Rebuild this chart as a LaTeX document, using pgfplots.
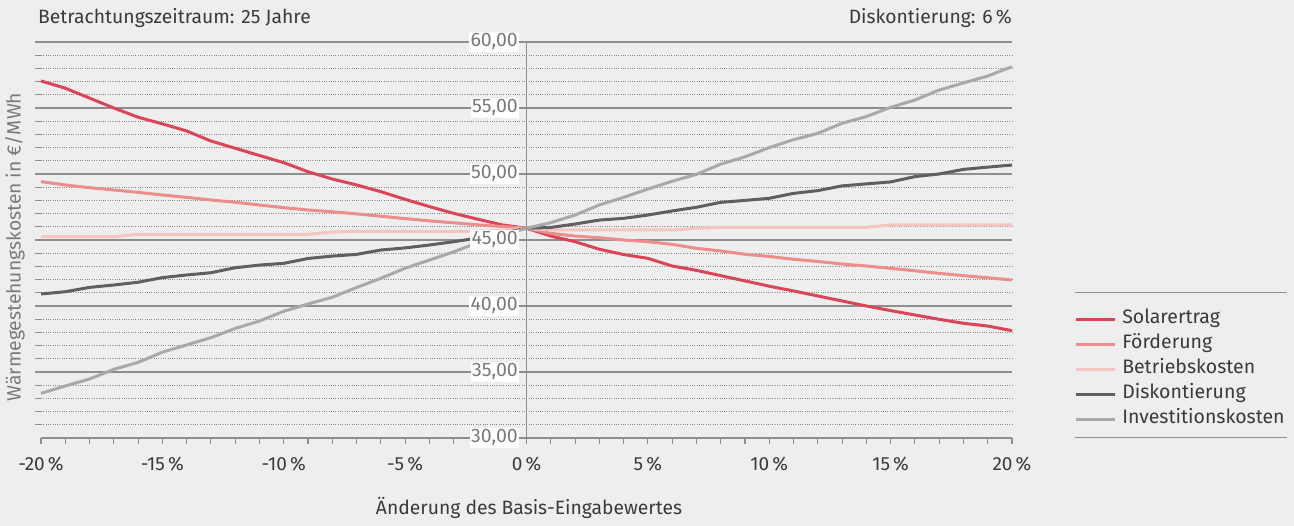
\documentclass[border=0pt]{standalone}
\usepackage{fontspec}
\setmainfont{Fira Sans}
\usepackage{pgfplots}
\usepackage{pgfplotstable}
\pgfplotsset{compat=1.18}
\definecolor{bg}{HTML}{EEEEEE}
\definecolor{c1}{HTML}{DC4457}
\definecolor{c2}{HTML}{EC8E8C}
\definecolor{c3}{HTML}{F6C5BF}
\definecolor{c4}{HTML}{5E5E63}
\definecolor{c5}{HTML}{A9A9AD}
\definecolor{gridmaj}{HTML}{8E8E8E}
\definecolor{gridmin}{HTML}{8A8A8A}
\definecolor{txt}{HTML}{3A3A3A}
\definecolor{ylab}{HTML}{7A7A7A}

\pgfplotstableread{
x y
-20 57.05
-19 56.50
-18 55.75
-17 55.00
-16 54.30
-15 53.80
-14 53.26
-13 52.50
-12 51.95
-11 51.40
-10 50.86
-9 50.17
-8 49.62
-7 49.17
-6 48.66
-5 48.08
-4 47.53
-3 47.02
-2 46.57
-1 46.14
0 45.89
1 45.30
2 44.87
3 44.30
4 43.90
5 43.61
6 43.03
7 42.70
8 42.30
9 41.90
10 41.50
11 41.14
12 40.76
13 40.38
14 40.00
15 39.65
16 39.32
17 38.99
18 38.69
19 38.48
20 38.13
}\solar

\pgfplotstableread{
x y
-20 49.42
-19 49.17
-18 48.96
-17 48.79
-16 48.61
-15 48.41
-14 48.23
-13 48.03
-12 47.86
-11 47.65
-10 47.45
-9 47.27
-8 47.14
-7 46.98
-6 46.80
-5 46.62
-4 46.45
-3 46.30
-2 46.15
-1 46.02
0 45.89
1 45.50
2 45.30
3 45.17
4 45.00
5 44.87
6 44.67
7 44.37
8 44.17
9 43.92
10 43.75
11 43.54
12 43.37
13 43.18
14 43.03
15 42.85
16 42.67
17 42.47
18 42.30
19 42.14
20 41.97
}\foerd

\pgfplotstableread{
x y
-20 45.25
-19 45.25
-18 45.25
-17 45.25
-16 45.43
-15 45.43
-14 45.43
-13 45.43
-12 45.43
-11 45.43
-10 45.43
-9 45.43
-8 45.60
-7 45.66
-6 45.66
-5 45.66
-4 45.66
-3 45.66
-2 45.66
-1 45.72
0 45.89
1 45.76
2 45.76
3 45.76
4 45.76
5 45.76
6 45.76
7 45.89
8 45.96
9 45.96
10 45.96
11 45.96
12 45.96
13 45.96
14 45.96
15 46.14
16 46.14
17 46.14
18 46.14
19 46.14
20 46.14
}\betrieb

\pgfplotstableread{
x y
-20 40.91
-19 41.08
-18 41.41
-17 41.59
-16 41.80
-15 42.15
-14 42.35
-13 42.52
-12 42.90
-11 43.10
-10 43.23
-9 43.60
-8 43.78
-7 43.91
-6 44.24
-5 44.40
-4 44.62
-3 44.87
-2 45.15
-1 45.50
0 45.89
1 45.95
2 46.21
3 46.51
4 46.64
5 46.89
6 47.20
7 47.48
8 47.85
9 48.00
10 48.16
11 48.53
12 48.74
13 49.10
14 49.25
15 49.40
16 49.80
17 50.00
18 50.35
19 50.52
20 50.68
}\disk

\pgfplotstableread{
x y
-20 33.38
-19 33.94
-18 34.47
-17 35.20
-16 35.73
-15 36.50
-14 37.05
-13 37.60
-12 38.30
-11 38.86
-10 39.60
-9 40.15
-8 40.66
-7 41.40
-6 42.10
-5 42.86
-4 43.48
-3 44.10
-2 44.80
-1 45.35
0 45.89
1 46.31
2 46.89
3 47.65
4 48.23
5 48.86
6 49.45
7 49.97
8 50.75
9 51.30
10 52.00
11 52.60
12 53.08
13 53.84
14 54.35
15 55.05
16 55.60
17 56.36
18 56.90
19 57.42
20 58.13
}\invest

\begin{document}
\begin{tikzpicture}[x=1pt,y=1pt]
\fill[bg] (0,0) rectangle (1294,526);
\useasboundingbox (0,0) rectangle (1294,526);
\begin{axis}[
  at={(41pt,88pt)}, anchor=south west,
  width=971pt, height=396pt, scale only axis,
  xmin=-20, xmax=20, ymin=30, ymax=60,
  axis x line=bottom, axis y line=center,
  axis line style={draw=gridmaj, line width=1.3pt, -},
  xtick={-20,-15,...,20},
  xticklabels={-20\,\%,-15\,\%,-10\,\%,-5\,\%,0\,\%,5\,\%,10\,\%,15\,\%,20\,\%},
  minor x tick num=4,
  ytick={30,35,...,60},
  yticklabels={},
  minor y tick num=4,
  ymajorgrids, yminorgrids,
  major grid style={draw=gridmaj, line width=1.3pt},
  minor grid style={draw=gridmin, line width=0.9pt, dash pattern=on 1pt off 1.3pt},
  tick style={draw=gridmaj, line width=1.1pt},
  major tick length=6pt, minor tick length=6pt,
  tick align=outside,
  ytick pos=left,
  xticklabel style={text=txt, font=\fontsize{19}{20}\selectfont, yshift=-9pt},
  legend style={at={(axis description cs:1.0639,0.3234)}, anchor=north west, draw=none, fill=none,
    inner sep=0pt, font=\fontsize{19.5}{20}\selectfont, text=txt, row sep=7pt,
    nodes={inner sep=1pt, text height=12pt, text depth=4pt}},
  legend cell align=left,
  legend image code/.code={\draw[#1, line width=3pt] (0pt,0pt) -- (39pt,0pt); \path (44pt,0pt);},
  every axis plot/.append style={line width=3pt, line join=round},
  clip=false,
  after end axis/.code={
    \draw[gridmaj, line width=1.3pt] (axis cs:0,30) -- (axis cs:0,60);
    \foreach \v/\t in {30/{30,00},35/{35,00},40/{40,00},45/{45,00},50/{50,00},55/{55,00},60/{60,00}}{
      \node[anchor=east, text=ylab, fill=white, inner sep=1.5pt, font=\fontsize{19.5}{20}\selectfont, xshift=-7pt] at (axis cs:0,\v) {\t};
    }
  },
]
\addplot[c1, no marks] table {\solar};
\addlegendentry{Solarertrag}
\addplot[c2, no marks] table {\foerd};
\addlegendentry{Förderung}
\addplot[c3, no marks] table {\betrieb};
\addlegendentry{Betriebskosten}
\addplot[c4, no marks] table {\disk};
\addlegendentry{Diskontierung}
\addplot[c5, no marks] table {\invest};
\addlegendentry{Investitionskosten}
\end{axis}
\draw[gridmaj, line width=1.3pt] (1075,233.3) -- (1287,233.3);
\draw[gridmaj, line width=1.3pt] (1075,88.3) -- (1287,88.3);
\node[anchor=west, text=txt, font=\fontsize{19.3}{20}\selectfont, inner sep=0pt] at (38,508) {Betrachtungszeitraum: 25 Jahre};
\node[anchor=east, text=txt, font=\fontsize{19.3}{20}\selectfont, inner sep=0pt] at (1012,508) {Diskontierung: 6\,\%};
\node[rotate=90, text=ylab, font=\fontsize{19.3}{20}\selectfont, inner sep=0pt] at (15,279) {Wärmegestehungskosten in €/MWh};
\node[text=txt, font=\fontsize{19.3}{20}\selectfont, inner sep=0pt] at (529,18) {Änderung des Basis-Eingabewertes};
\end{tikzpicture}
\end{document}
